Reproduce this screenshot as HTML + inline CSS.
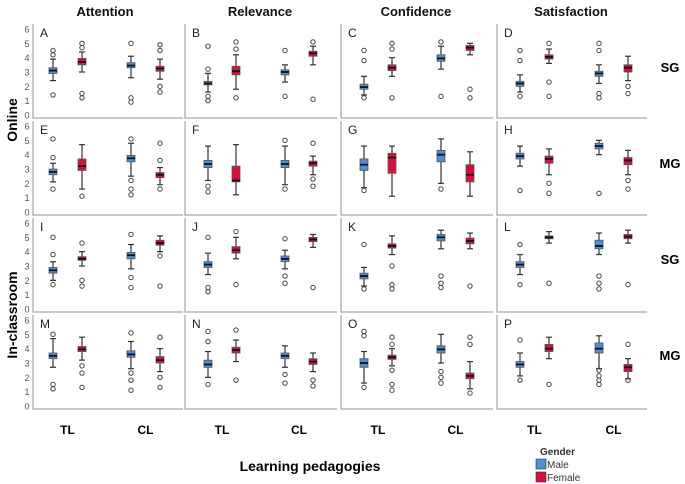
<!DOCTYPE html>
<html><head><meta charset="utf-8"><style>
body{margin:0;background:#fff}
svg{display:block;font-family:"Liberation Sans",sans-serif}
</style></head><body>
<svg id="c" width="685" height="484" viewBox="0 0 685 484"></svg>
<script>
const panelLetters=["A","B","C","D","E","F","G","H","I","J","K","L","M","N","O","P"];
const groups=["Male TL","Female TL","Male CL","Female CL"];
const columns=["Attention","Relevance","Confidence","Satisfaction"];
const yTicks=[0,1,2,3,4,5,6];
// each box: [q1, median, q3, whiskerLow, whiskerHigh]
const boxStats=[
[[2.9,3.1,3.3,2.4,3.9],[3.5,3.7,3.95,3.0,4.4],[3.3,3.45,3.65,2.6,4.1],[3.05,3.25,3.4,2.5,3.9]],
[[2.1,2.2,2.35,1.6,2.9],[2.8,3.05,3.4,1.8,4.2],[2.8,3.0,3.15,2.3,3.5],[4.1,4.3,4.45,3.5,4.8]],
[[1.8,1.95,2.15,1.4,2.7],[3.1,3.3,3.5,2.7,4.0],[3.75,3.95,4.2,3.2,4.8],[4.5,4.7,4.85,4.2,5.0]],
[[2.0,2.2,2.35,1.6,2.8],[3.9,4.05,4.2,3.6,4.6],[2.7,2.9,3.05,2.2,3.5],[3.0,3.3,3.5,2.4,4.1]],
[[2.6,2.8,3.0,2.1,3.4],[2.9,3.2,3.7,1.6,4.7],[3.5,3.75,3.95,2.5,4.8],[2.4,2.6,2.75,1.9,3.1]],
[[3.1,3.35,3.6,2.2,4.6],[2.1,2.2,3.2,1.2,4.7],[3.1,3.35,3.6,1.9,4.6],[3.2,3.4,3.55,2.6,3.9]],
[[2.9,3.3,3.7,1.7,4.6],[2.7,3.8,4.1,1.1,4.6],[3.5,4.0,4.3,2.0,5.1],[2.1,2.6,3.3,1.1,4.2]],
[[3.7,3.9,4.1,3.2,4.6],[3.4,3.7,3.9,2.6,4.4],[4.4,4.6,4.8,4.0,5.0],[3.3,3.6,3.8,2.6,4.3]],
[[2.5,2.7,2.9,2.0,3.3],[3.4,3.5,3.65,3.0,4.0],[3.5,3.75,3.95,2.8,4.5],[4.45,4.6,4.8,4.0,5.1]],
[[2.9,3.1,3.3,2.4,3.9],[3.9,4.1,4.35,3.5,5.0],[3.3,3.5,3.7,2.8,4.1],[4.7,4.85,5.0,4.3,5.2]],
[[2.1,2.3,2.5,1.6,2.9],[4.25,4.4,4.55,3.8,5.1],[4.75,5.0,5.2,4.2,5.5],[4.55,4.75,4.95,4.2,5.3]],
[[2.9,3.1,3.3,2.4,3.8],[4.9,5.0,5.1,4.6,5.4],[4.2,4.4,4.8,3.8,5.3],[4.9,5.05,5.2,4.6,5.5]],
[[3.3,3.5,3.7,2.7,4.7],[3.8,3.95,4.15,3.2,4.8],[3.4,3.6,3.85,2.6,4.5],[3.0,3.2,3.45,2.4,4.0]],
[[2.7,2.9,3.2,2.0,3.8],[3.7,3.9,4.1,3.1,4.6],[3.3,3.5,3.7,2.7,4.2],[2.9,3.1,3.3,2.4,3.7]],
[[2.7,3.0,3.3,1.6,3.8],[3.25,3.4,3.55,2.8,4.0],[3.7,3.95,4.2,3.0,5.0],[1.9,2.1,2.3,1.2,3.1]],
[[2.7,2.9,3.1,2.1,3.7],[3.8,4.0,4.3,3.3,4.8],[3.7,4.0,4.4,2.6,4.9],[2.4,2.7,2.9,1.9,3.3]]
];
const outliers=[
[[4.2,4.5,1.4],[4.7,5.0,1.5,1.2],[5.0,1.2,0.9],[4.5,4.9,2.0,1.6]],
[[3.2,4.8,1.3,1.0],[4.6,5.1,1.2],[4.5,1.3],[5.1,1.1]],
[[4.5,3.8,1.2],[4.6,5.0,1.2],[5.1,1.3],[1.8,1.2]],
[[4.5,3.8,1.3],[5.0,2.3,1.3],[4.5,5.0,1.5,1.2],[1.5,2.0]],
[[3.8,5.1,1.6],[1.1],[5.1,2.2,1.6,1.2],[3.6,4.8,1.6]],
[[1.8,1.4],[],[5.0,1.6],[4.8,1.8,2.3]],
[[1.5],[],[1.6],[]],
[[1.5],[2.0,1.3],[1.3],[2.2,1.6]],
[[3.8,5.0,1.7],[4.6,2.0,1.6],[5.2,2.2,1.5],[3.7,1.6]],
[[5.0,1.5,1.2],[5.4,1.7],[4.9,2.3,1.8],[1.5]],
[[4.5,1.4],[3.0,1.7,1.4],[2.3,1.8,1.5],[1.6]],
[[4.5,1.7],[1.8],[2.3,1.8,1.4],[1.7]],
[[5.0,1.5,1.2],[2.8,2.3,1.3],[5.1,2.3,1.8,1.1],[4.8,2.0,1.3]],
[[5.2,4.5,1.5],[5.3,1.8],[2.2,1.6],[1.8,1.4]],
[[5.2,4.9,1.3],[4.8,4.3,2.5,1.5,1.1],[2.4,2.0,1.6],[4.8,4.3,0.9]],
[[4.6,1.8],[1.5],[2.5,2.1,1.8,1.5],[4.3,1.8]]
];
const NS="http://www.w3.org/2000/svg";
const svg=document.getElementById('c');
function el(t,a,p){const e=document.createElementNS(NS,t);for(const k in a)e.setAttribute(k,a[k]);(p||svg).appendChild(e);return e;}
function txt(s,a){const e=el('text',a);e.textContent=s;return e;}
const panelLeft=[33,185,341,497], panelRight=[183,337,493,647];
const panelTop=[24,121,218,315];
const colBoxX=[[53,82,131,160],[208,236,285,313],[364,392,441,470],[520,549,599,628]];
const fills=["#4a90d9","#d2123c","#4a90d9","#d2123c"];
function yScale(row,v){const base=panelTop[row]+91, top=panelTop[row]+5;return base-(v/6)*(base-top);}
for(let p=0;p<16;p++){
  const row=Math.floor(p/4), col=p%4;
  const g=el('g',{});
  
  
  const L=panelLeft[col],R=panelRight[col],T=panelTop[row],B=T+94;
  el('path',{d:`M${L},${T} L${L},${B} L${R},${B}`,stroke:'#b5b5b5','stroke-width':1.5,fill:'none'},g);
  const lt=el('text',{x:L+7,y:T+13,'font-size':12,fill:'#222'},g);lt.textContent=panelLetters[p];
  if(col===0){for(const t of yTicks){const tt=el('text',{x:L-6,y:yScale(row,t)+3.5,'font-size':9,fill:'#555','text-anchor':'middle'},g);tt.textContent=t;}}
  for(let b=0;b<4;b++){
    const s=boxStats[p][b], x=colBoxX[col][b], w=8;
    const bg=el('g',{},g);
    
    
    el('line',{x1:x,x2:x,y1:yScale(row,s[3]),y2:yScale(row,s[4]),stroke:'#333','stroke-width':1.2},bg);
    el('line',{x1:x-3,x2:x+3,y1:yScale(row,s[3]),y2:yScale(row,s[3]),stroke:'#333','stroke-width':1.2},bg);
    el('line',{x1:x-3,x2:x+3,y1:yScale(row,s[4]),y2:yScale(row,s[4]),stroke:'#333','stroke-width':1.2},bg);
    el('rect',{x:x-w/2,y:yScale(row,s[2]),width:w,height:Math.max(2,yScale(row,s[0])-yScale(row,s[2])),fill:fills[b],stroke:'#555','stroke-width':0.8},bg);
    el('line',{x1:x-w/2,x2:x+w/2,y1:yScale(row,s[1]),y2:yScale(row,s[1]),stroke:'#111','stroke-width':1.8},bg);
    for(const o of outliers[p][b]){
      el('circle',{cx:x,cy:yScale(row,o),r:2.2,fill:'none',stroke:'#444','stroke-width':1},bg);
    }
  }
}
const heads=[105,260,416,571];
columns.forEach((c,i)=>{const t=txt(c,{x:heads[i],y:16,'font-size':13,'font-weight':'bold','text-anchor':'middle',fill:'#111'});
});
let t=txt('Online',{x:0,y:0,'font-size':14,'font-weight':'bold','text-anchor':'middle',transform:'translate(17,120) rotate(-90)'});

t=txt('In-classroom',{x:0,y:0,'font-size':14,'font-weight':'bold','text-anchor':'middle',transform:'translate(17,315) rotate(-90)'});

[["SG",72],["MG",168],["SG",264],["MG",360]].forEach((r,i)=>{const e=txt(r[0],{x:670,y:r[1],'font-size':13,'font-weight':'bold','text-anchor':'middle'});
});
for(let c=0;c<4;c++){
  const a=txt('TL',{x:(colBoxX[c][0]+colBoxX[c][1])/2,y:434,'font-size':12,'font-weight':'bold','text-anchor':'middle'});
  
  const b=txt('CL',{x:(colBoxX[c][2]+colBoxX[c][3])/2,y:434,'font-size':12,'font-weight':'bold','text-anchor':'middle'});
  
}
t=txt('Learning pedagogies',{x:310,y:471,'font-size':14,'font-weight':'bold','text-anchor':'middle'});

t=txt('Gender',{x:540,y:455,'font-size':10,'font-weight':'bold','fill':'#333'});

let lg=el('g',{});
el('rect',{x:536,y:459,width:10,height:10,fill:'#4a90d9',stroke:'#333','stroke-width':0.6},lg);
let lt=el('text',{x:547,y:468,'font-size':10,fill:'#333'},lg);lt.textContent='Male';
lg=el('g',{});
el('rect',{x:536,y:472,width:10,height:10,fill:'#d2123c',stroke:'#333','stroke-width':0.6},lg);
lt=el('text',{x:547,y:481,'font-size':10,fill:'#333'},lg);lt.textContent='Female';
</script>
</body></html>
